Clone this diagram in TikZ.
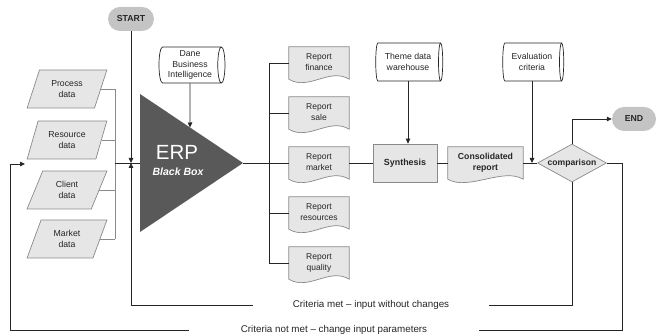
\documentclass[tikz,border=0pt]{standalone}
\usepackage{fontspec}
\setmainfont{Liberation Sans}
\usetikzlibrary{shapes.geometric,shapes.misc,arrows.meta,backgrounds,calc}
\definecolor{shfill}{HTML}{E6E6E6}
\definecolor{shline}{HTML}{8A8A8A}
\definecolor{pill}{HTML}{C4C4C4}
\definecolor{erpfill}{HTML}{595959}
\definecolor{ink}{HTML}{262626}
\newcommand\docoutline[1]{%
  \begin{pgfonlayer}{background}
  \path[docline] (#1.north west) -- (#1.north east) -- (#1.south east)
    .. controls ($(#1.south east)+(-20,-12)$) and ($(#1.south west)+(20,12)$) .. (#1.south west) -- cycle;
  \end{pgfonlayer}}
\newcommand\doctext[1]{\raisebox{3pt}{\begin{tabular}{@{}c@{}}#1\end{tabular}}}
\begin{document}
\begin{tikzpicture}[x=1pt,y=-1pt,
  every node/.style={text=ink},
  conn/.style={draw=ink,line width=0.8pt},
  feed/.style={draw=shline,line width=0.8pt},
  arr/.style={conn,-{Triangle[length=5pt,width=4.5pt]}},
  pillnode/.style={rounded rectangle,fill=pill,minimum width=46pt,minimum height=24pt,inner sep=0pt,
    font=\bfseries\fontsize{8.7}{10}\selectfont},
  datanode/.style={trapezium,trapezium left angle=67,trapezium right angle=113,trapezium stretches=true,
    minimum width=80pt,minimum height=38pt,inner sep=0pt,fill=shfill,draw=shline,line width=0.7pt,
    align=center,font=\fontsize{8.7}{10.5}\selectfont},
  drum/.style={cylinder,shape aspect=0.25,draw=ink,fill=white,line width=0.7pt,inner sep=0pt,
    align=center,font=\fontsize{8.7}{10.5}\selectfont},
  docnode/.style={rectangle,minimum width=60pt,minimum height=32pt,inner sep=0pt,
    font=\fontsize{8.5}{10.5}\selectfont},
  docline/.style={fill=shfill,draw=shline,line width=0.7pt},
  procnode/.style={rectangle,minimum width=64pt,minimum height=38pt,inner sep=0pt,fill=shfill,draw=shline,
    line width=0.7pt,font=\bfseries\fontsize{8.9}{10.5}\selectfont},
  decnode/.style={diamond,aspect=1.8,minimum width=69pt,minimum height=38pt,inner sep=0pt,fill=shfill,
    draw=shline,line width=0.7pt,font=\bfseries\fontsize{8.6}{10}\selectfont},
  looptext/.style={fill=white,inner xsep=0pt,inner ysep=2pt,font=\fontsize{9.8}{11}\selectfont}
]
\useasboundingbox (0,0) rectangle (657,336);

% start / end
\node[pillnode] (start) at (131,19) {START};
\node[pillnode,minimum width=44pt] (endn) at (634,119) {END};

% data inputs
\node[datanode] (proc) at (67,89) {Process\\data};
\node[datanode] (res) at (67,140) {Resource\\data};
\node[datanode] (cli) at (67,190) {Client\\data};
\node[datanode] (mark) at (67,239) {Market\\data};

% ERP triangle
\coordinate (erpTL) at (140,94);
\coordinate (erpBL) at (140,232);
\coordinate (erpE) at (243,163);
\coordinate (erpW) at (140,163);
\fill[erpfill] (erpTL) -- (erpE) -- (erpBL) -- cycle;
\node[text=white,font=\fontsize{20.5}{22}\selectfont] (erpt) at (177,152) {ERP};
\node[text=white,font=\bfseries\itshape\fontsize{10.5}{12}\selectfont] (bbox) at (178,172) {Black Box};

% databases
\node[drum,minimum height=66pt,minimum width=36pt] (dane) at (190,65) {Dane\\Business\\Intelligence};
\node[drum,minimum height=67pt,minimum width=38pt] (theme) at (408,62) {Theme data\\warehouse};
\node[drum,minimum height=61pt,minimum width=38pt] (eval) at (532,62) {Evaluation\\criteria};

% reports
\node[docnode] (rf) at (319,63) {\doctext{Report\\finance}};
\node[docnode] (rs) at (319,113) {\doctext{Report\\sale}};
\node[docnode] (rm) at (319,163) {\doctext{Report\\market}};
\node[docnode] (rr) at (319,213) {\doctext{Report\\resources}};
\node[docnode] (rq) at (319,263) {\doctext{Report\\quality}};
\docoutline{rf}\docoutline{rs}\docoutline{rm}\docoutline{rr}\docoutline{rq}

% synthesis, consolidated, comparison
\node[procnode] (syn) at (405,163) {Synthesis};
\node[docnode,minimum width=75pt,font=\bfseries\fontsize{8.7}{10.5}\selectfont] (cons) at (485.5,163) {\doctext{Consolidated\\report}};
\docoutline{cons}
\node[decnode] (cmp) at (572,163) {comparison};

% input feeds
\coordinate (colL) at (115,0);
\draw[feed] (proc.east) -- (proc.east -| colL);
\draw[feed] (res.east) -- (res.east -| colL);
\draw[feed] (cli.east) -- (cli.east -| colL);
\draw[feed] (mark.east) -- (mark.east -| colL);
\draw[feed] (proc.east -| colL) -- (mark.east -| colL);
\draw[conn] (colL |- erpW) -- (erpW);
\draw[arr] (start.south) -- (start.south |- erpW);

% dane arrow
\coordinate (daneLow) at (dane.south |- erpBL);
\draw[arr] (dane.south) -- (intersection of dane.south--daneLow and erpTL--erpE);

% reports column
\coordinate (colR) at (269,0);
\draw[conn] (colR |- rf.west) -- (colR |- rq.west);
\draw[conn] (colR |- rf.west) -- (rf.west);
\draw[conn] (colR |- rs.west) -- (rs.west);
\draw[conn] (colR |- rr.west) -- (rr.west);
\draw[conn] (colR |- rq.west) -- (rq.west);
\draw[conn] (erpE) -- (rm.west);

% right flow
\draw[conn] (rm.east) -- (syn.west);
\draw[arr] (theme.south) -- (theme.south |- syn.north);
\draw[conn] (syn.east) -- (cons.west);
\draw[conn] (cons.east) -- (cmp.west);
\draw[arr] (eval.south) -- (eval.south |- cmp.west);
\draw[arr] (cmp.north) |- (endn.west);

% feedback loops
\coordinate (metY) at (0,305);
\draw[arr] (cmp.south) |- (start.south |- metY) -- (start.south |- erpW);
\coordinate (nmR) at (622,330);
\coordinate (nmL) at (10,330);
\coordinate (loopIn) at (25,164);
\draw[arr] (cmp.east) -| (nmR) -- (nmL) |- (loopIn);

\node[looptext,inner xsep=40pt] (met) at (371,305) {Criteria met -- input without changes};
\node[looptext,inner xsep=52pt] (notmet) at (334,330) {Criteria not met -- change input parameters};
\end{tikzpicture}
\end{document}
